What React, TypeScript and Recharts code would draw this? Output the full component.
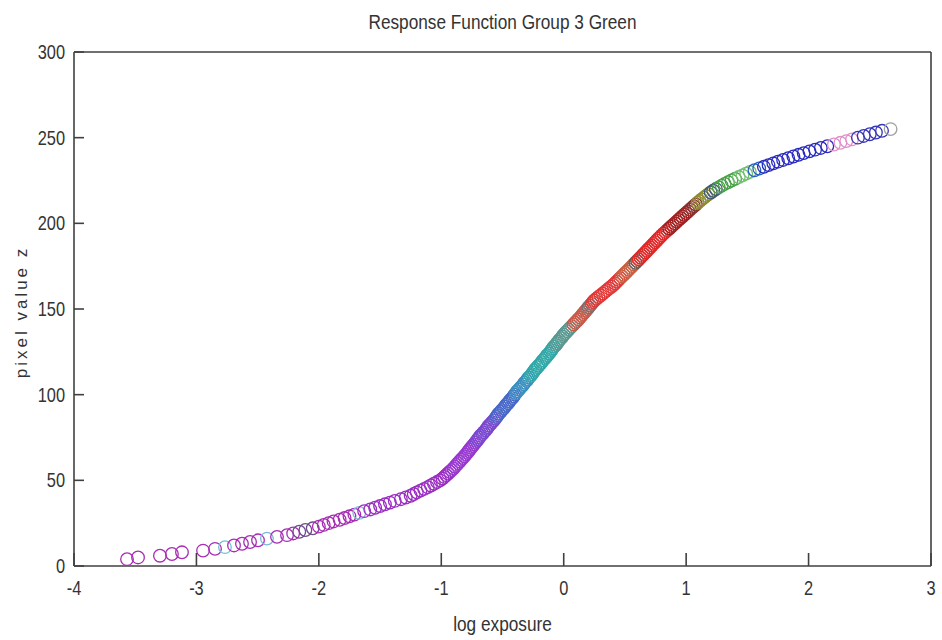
import React from 'react';
import { ScatterChart, Scatter, XAxis, YAxis } from 'recharts';

const FONT = '"Liberation Sans", Arial, sans-serif';
const NARROW_SCALE = 0.82;

const xTicks = [-4, -3, -2, -1, 0, 1, 2, 3];
const yTicks = [0, 50, 100, 150, 200, 250, 300];

const pixelValue: number[] = [
  4, 5, 6, 7, 8, 9, 10, 11, 12, 13, 14, 15, 16, 17, 18, 19, 20, 21, 22, 23,
  24, 25, 26, 27, 28, 29, 30, 31, 32, 33, 34, 35, 36, 37, 38, 39, 40, 41, 42, 43,
  44, 45, 46, 47, 48, 49, 50, 51, 52, 53, 54, 55, 56, 57, 58, 59, 60, 61, 62, 63,
  64, 65, 66, 67, 68, 69, 70, 71, 72, 73, 74, 75, 76, 77, 78, 79, 80, 81, 82, 83,
  84, 85, 86, 87, 88, 89, 90, 91, 92, 93, 94, 95, 96, 97, 98, 99, 100, 101, 102, 103,
  104, 105, 106, 107, 108, 109, 110, 111, 112, 113, 114, 115, 116, 117, 118, 119, 120, 121, 122, 123,
  124, 125, 126, 127, 128, 129, 130, 131, 132, 133, 134, 135, 136, 137, 138, 139, 140, 141, 142, 143,
  144, 145, 146, 147, 148, 149, 150, 151, 152, 153, 154, 155, 156, 157, 158, 159, 160, 161, 162, 163,
  164, 165, 166, 167, 168, 169, 170, 171, 172, 173, 174, 175, 176, 177, 178, 179, 180, 181, 182, 183,
  184, 185, 186, 187, 188, 189, 190, 191, 192, 193, 194, 195, 196, 197, 198, 199, 200, 201, 202, 203,
  204, 205, 206, 207, 208, 209, 210, 211, 212, 213, 214, 215, 216, 217, 218, 219, 220, 221, 222, 223,
  224, 225, 226, 227, 228, 229, 230, 231, 232, 233, 234, 235, 236, 237, 238, 239, 240, 241, 242, 243,
  244, 245, 246, 247, 248, 249, 250, 251, 252, 253, 254, 255,
];

const logExposure: number[] = [
  -3.567, -3.477, -3.298, -3.2, -3.118, -2.946, -2.848, -2.767, -2.693, -2.628, -2.562, -2.497, -2.424, -2.342, -2.26,
  -2.21, -2.16, -2.11, -2.05, -2.0,
  -1.96, -1.92, -1.88, -1.83, -1.79, -1.75,
  -1.71, -1.67, -1.63, -1.58, -1.54, -1.5,
  -1.46, -1.42, -1.38, -1.33, -1.29, -1.25,
  -1.225, -1.2, -1.17, -1.14, -1.11, -1.085, -1.06, -1.035, -1.01,
  -0.99, -0.975, -0.96, -0.945, -0.93, -0.915, -0.9, -0.888, -0.876, -0.863,
  -0.85, -0.838, -0.825, -0.812, -0.8, -0.789, -0.778, -0.767, -0.756, -0.745, -0.733, -0.722, -0.711, -0.7,
  -0.69, -0.68, -0.665, -0.655, -0.64, -0.63, -0.62, -0.61, -0.595, -0.585, -0.57, -0.56, -0.55,
  -0.54, -0.53, -0.515, -0.505, -0.49, -0.48, -0.47, -0.455, -0.445, -0.435, -0.42, -0.41, -0.4,
  -0.39, -0.38, -0.365, -0.355, -0.34, -0.33, -0.32, -0.305, -0.295, -0.285, -0.27, -0.26, -0.25,
  -0.24, -0.23, -0.215, -0.205, -0.19, -0.18, -0.17, -0.155, -0.145, -0.135, -0.12, -0.11, -0.1,
  -0.09, -0.08, -0.065, -0.055, -0.045, -0.035, -0.02, -0.01, 0.0,
  0.013, 0.027, 0.04, 0.053, 0.067, 0.08, 0.093, 0.107, 0.12, 0.133,
  0.145, 0.156, 0.168, 0.18, 0.192, 0.203, 0.215, 0.227, 0.238, 0.25,
  0.267, 0.284, 0.302, 0.319, 0.336, 0.353, 0.37, 0.388, 0.405,
  0.419, 0.433, 0.447, 0.461, 0.475, 0.489, 0.503, 0.517, 0.531, 0.545, 0.559, 0.572, 0.586, 0.6,
  0.613, 0.627, 0.64, 0.653, 0.667, 0.68, 0.693, 0.707, 0.72, 0.733, 0.747, 0.76, 0.773, 0.787, 0.8,
  0.815, 0.831, 0.846, 0.862, 0.877, 0.892, 0.908, 0.923, 0.938, 0.954, 0.969, 0.985, 1.0,
  1.016, 1.031, 1.047, 1.063, 1.079, 1.094, 1.11,
  1.127, 1.145, 1.163, 1.182, 1.201, 1.221,
  1.243, 1.266, 1.29, 1.315, 1.342,
  1.37, 1.4, 1.43, 1.46, 1.49, 1.52,
  1.558, 1.597, 1.635, 1.673, 1.712, 1.75,
  1.792, 1.834, 1.876, 1.918, 1.96,
  2.007, 2.053, 2.1, 2.153, 2.207, 2.26,
  2.308, 2.355, 2.403, 2.45, 2.5, 2.55, 2.6, 2.67,
];

// colour groups: first pixel value of each group and its colour
const colorBandStart: number[] = [
  4, 11, 12, 16, 17, 20, 23, 31, 32, 56, 73, 87, 101, 111, 129, 141, 151, 154, 169, 177,
  179, 197, 208, 212, 218, 221, 227, 231, 233, 246, 250, 255,
];
const colorBandColor: string[] = [
  '#a82cb4', '#6cc4d4', '#a82cb4', '#78b8d8', '#a82cb4', '#6e4c8c', '#a82cb4', '#80c0d8', '#9a2ec0', '#9838d0',
  '#7a48d0', '#4868c8', '#3a90c0', '#30a8a8', '#5a9890', '#c85a48', '#787070', '#e03838', '#c86040', '#606060',
  '#e02828', '#a02020', '#883030', '#8c8c30', '#405878', '#48a048', '#70c070', '#2860c0', '#2a2ac0', '#e090c8',
  '#3636b8', '#a0a0a0',
];

const colorFor = (z: number) => {
  let c = colorBandColor[0];
  for (let i = 0; i < colorBandStart.length; i++) {
    if (z >= colorBandStart[i]) c = colorBandColor[i];
  }
  return c;
};

const points = pixelValue.map((z, i) => ({ x: logExposure[i], z, color: colorFor(z) }));

const Ring = (props: any) => {
  const { cx, cy, payload } = props;
  if (cx == null || cy == null) return null;
  return <circle cx={cx} cy={cy} r={6.3} fill="none" stroke={payload.color} strokeWidth={1.3} />;
};

const AXIS = '#404040';
const TEXT = '#333333';
const X_TICK_LEN = 13;
const Y_TICK_LEN = 10;
const TICK_W = 1.6;

const BottomTick = (props: any) => {
  const { x, y, payload } = props;
  return (
    <g>
      <line x1={x} x2={x} y1={y} y2={y - X_TICK_LEN} stroke={AXIS} strokeWidth={TICK_W} />
      <text
        transform={`translate(${x},${y + 15}) scale(${NARROW_SCALE},1)`}
        textAnchor="middle"
        dy="0.71em"
        fill={TEXT}
        fontSize={20}
        fontFamily={FONT}
      >
        {payload.value}
      </text>
    </g>
  );
};

const TopTick = (props: any) => {
  const { x, y } = props;
  return <line x1={x} x2={x} y1={y} y2={y + X_TICK_LEN} stroke={AXIS} strokeWidth={TICK_W} />;
};

const LeftTick = (props: any) => {
  const { x, y, payload } = props;
  return (
    <g>
      <line x1={x} x2={x + Y_TICK_LEN} y1={y} y2={y} stroke={AXIS} strokeWidth={TICK_W} />
      <text
        transform={`translate(${x - 9},${y}) scale(${NARROW_SCALE},1)`}
        textAnchor="end"
        dy="0.355em"
        fill={TEXT}
        fontSize={20}
        fontFamily={FONT}
      >
        {payload.value}
      </text>
    </g>
  );
};

const RightTick = (props: any) => {
  const { x, y } = props;
  return <line x1={x} x2={x - Y_TICK_LEN} y1={y} y2={y} stroke={AXIS} strokeWidth={TICK_W} />;
};

export default function App() {
  return (
    <div style={{ position: 'absolute', left: 0, top: 0, width: 942, height: 640, background: '#ffffff', overflow: 'hidden' }}>
      <ScatterChart width={942} height={640} margin={{ top: 51, right: 10, bottom: 73, left: 73 }}>
        <XAxis
          xAxisId="x"
          dataKey="x"
          type="number"
          domain={[-4, 3]}
          ticks={xTicks}
          interval={0}
          allowDataOverflow
          height={1}
          tickLine={false}
          tickSize={0}
          tickMargin={0}
          axisLine={{ stroke: AXIS, strokeWidth: 1.6 }}
          tick={(p: any) => <BottomTick {...p} />}
        />
        <XAxis
          xAxisId="xTop"
          orientation="top"
          type="number"
          domain={[-4, 3]}
          ticks={xTicks}
          interval={0}
          height={1}
          tickLine={false}
          tickSize={0}
          tickMargin={0}
          axisLine={{ stroke: AXIS, strokeWidth: 1.6 }}
          tick={(p: any) => <TopTick {...p} />}
        />
        <YAxis
          yAxisId="y"
          dataKey="z"
          type="number"
          domain={[0, 300]}
          ticks={yTicks}
          interval={0}
          allowDataOverflow
          width={1}
          tickLine={false}
          tickSize={0}
          tickMargin={0}
          axisLine={{ stroke: AXIS, strokeWidth: 1.6 }}
          tick={(p: any) => <LeftTick {...p} />}
        />
        <YAxis
          yAxisId="yRight"
          orientation="right"
          type="number"
          domain={[0, 300]}
          ticks={yTicks}
          interval={0}
          width={1}
          tickLine={false}
          tickSize={0}
          tickMargin={0}
          axisLine={{ stroke: AXIS, strokeWidth: 1.6 }}
          tick={(p: any) => <RightTick {...p} />}
        />
        <Scatter
          xAxisId="x"
          yAxisId="y"
          data={points}
          shape={Ring}
          isAnimationActive={false}
        />
      </ScatterChart>
      <div
        style={{
          position: 'absolute', left: 74, width: 857, top: 10, textAlign: 'center',
          fontFamily: FONT, fontSize: 21, lineHeight: '24px', color: TEXT, whiteSpace: 'nowrap',
          transform: `scaleX(${NARROW_SCALE})`,
        }}
      >
        Response Function Group 3 Green
      </div>
      <div
        style={{
          position: 'absolute', left: 74, width: 857, top: 612, textAlign: 'center',
          fontFamily: FONT, fontSize: 21, lineHeight: '24px', color: TEXT, whiteSpace: 'nowrap',
          transform: `scaleX(${NARROW_SCALE})`,
        }}
      >
        log exposure
      </div>
      <div
        style={{
          position: 'absolute', left: 22, top: 312, transform: 'translate(-50%, -50%) rotate(-90deg)',
          fontFamily: FONT, fontSize: 17, letterSpacing: 3,
          lineHeight: '20px', color: TEXT, whiteSpace: 'nowrap',
        }}
      >
        pixel value z
      </div>
    </div>
  );
}
